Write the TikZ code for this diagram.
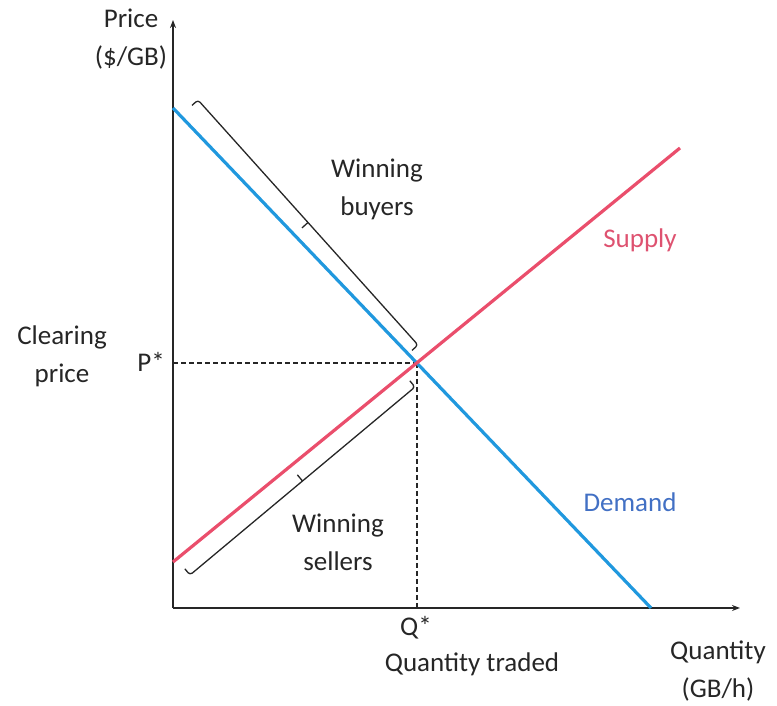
\documentclass[tikz,border=0pt]{standalone}
\usepackage{fontspec}
\setmainfont{Carlito}
\usetikzlibrary{calc,arrows.meta}
\definecolor{demandblue}{RGB}{32,152,222}
\definecolor{supplyred}{RGB}{234,78,108}
\definecolor{demandtext}{RGB}{66,112,196}
\definecolor{supplytext}{RGB}{222,82,112}
\definecolor{ink}{RGB}{38,38,38}
\tikzset{
  axis/.style={line width=1.8pt, draw=ink, -{Stealth[length=8pt,width=6pt]}},
  curve/.style={line width=3.2pt},
  guide/.style={line width=1.7pt, draw=ink, dash pattern=on 5pt off 3pt},
  bracket/.style={line width=1.3pt, draw=ink, rounded corners=3pt},
  lbl/.style={text=ink, font=\fontsize{27}{38}\selectfont, align=center, inner sep=0pt},
}
\begin{document}
\begin{tikzpicture}[x=1pt,y=1pt]
\useasboundingbox (0,0) rectangle (777,706);

% axes
\coordinate (O) at (173,98);
\coordinate (ytop) at (173,686);
\coordinate (xend) at (740,98);
\draw[axis] (O) -- (ytop);
\draw[axis] (O) -- (xend);

% demand and supply lines
\coordinate (d1) at (173,598);
\coordinate (d2) at (651,98);
\coordinate (s1) at (173,144);
\coordinate (s2) at (680,558);
\coordinate (E) at (intersection of d1--d2 and s1--s2);
\coordinate (pstar) at (O |- E);
\coordinate (qstar) at (E |- O);

% clearing point guides
\draw[guide] (pstar) -- (E);
\draw[guide] (E) -- (qstar);

\draw[curve, draw=demandblue] (d1) -- (d2);
\draw[curve, draw=supplyred] (s1) -- (s2);

% bracket along the winning buyers
\coordinate (ba) at (198,606);
\coordinate (bb) at (418,361);
\draw[bracket] ($(ba)!8pt!-90:(bb)$) -- (ba) -- (bb) -- ($(bb)!8pt!90:(ba)$);
\coordinate (bm) at ($(ba)!0.5!(bb)$);
\draw[bracket] (bm) -- ($(bm)!8pt!-90:(bb)$);

% bracket along the winning sellers
\coordinate (sa) at (190,131);
\coordinate (sb) at (415,319);
\draw[bracket] ($(sa)!8pt!90:(sb)$) -- (sa) -- (sb) -- ($(sb)!8pt!-90:(sa)$);
\coordinate (sm) at ($(sa)!0.5!(sb)$);
\draw[bracket] (sm) -- ($(sm)!8pt!90:(sb)$);

% labels
\node[lbl] (price) at (131,667) {Price\\(\$/GB)};
\node[lbl] (clearing) at (62,350) {Clearing\\price};
\node[lbl, anchor=east] (plabel) at (165,344) {P*};
\node[lbl] (qlabel) at (416,78) {Q*};
\node[lbl] (traded) at (472,42) {Quantity traded};
\node[lbl] (quantity) at (718,35) {Quantity\\(GB/h)};
\node[lbl] (buyers) at (377,517) {Winning\\buyers};
\node[lbl] (sellers) at (338,164) {Winning\\sellers};
\node[lbl, text=supplytext] (supply) at (640,466) {Supply};
\node[lbl, text=demandtext] (demand) at (630,204) {Demand};
\end{tikzpicture}
\end{document}
